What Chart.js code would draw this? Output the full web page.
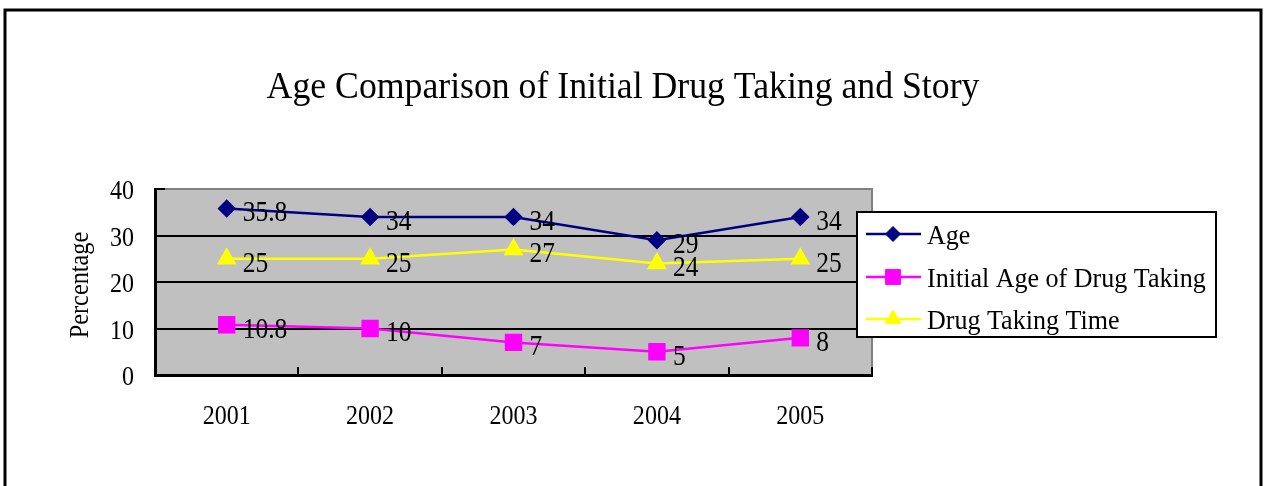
<!doctype html>
<html lang="en">
<head>
<meta charset="utf-8">
<title>Age Comparison of Initial Drug Taking and Story</title>
<script src="https://cdn.jsdelivr.net/npm/chart.js"></script>
<style>
  html, body { margin: 0; padding: 0; background: #fff; }
</style>
</head>
<body>
<canvas id="chart" width="1267" height="486"></canvas>
<script>
// data
const years = ['2001', '2002', '2003', '2004', '2005'];
const ageValues = [35.8, 34, 34, 29, 34];
const initialAgeValues = [10.8, 10, 7, 5, 8];
const takingTimeValues = [25, 25, 27, 24, 25];
const yTicks = [0, 10, 20, 30, 40];
const seriesNames = ['Age', 'Initial Age of Drug Taking', 'Drug Taking Time'];

const chartTitle = 'Age Comparison of Initial Drug Taking and Story';
const yTitle = 'Percentage';
const FONT = "'Liberation Serif', 'DejaVu Serif', serif";

// tall, slightly narrow serif text (squeezed horizontally by sx)
function drawText(ctx, text, x, y, size, sx, align, rot) {
  ctx.save();
  ctx.translate(x, y);
  if (rot) ctx.rotate(rot);
  ctx.scale(sx, 1);
  ctx.font = size + 'px ' + FONT;
  ctx.fillStyle = '#000';
  ctx.textAlign = align;
  ctx.textBaseline = 'middle';
  ctx.fillText(text, 0, 0);
  ctx.restore();
}

// grey plot background, outer frame and the title
const framePlugin = {
  id: 'frame',
  beforeDraw(chart) {
    const ctx = chart.ctx, a = chart.chartArea;
    ctx.save();
    ctx.fillStyle = '#c0c0c0';
    ctx.fillRect(a.left, a.top, a.right - a.left, a.bottom - a.top);
    ctx.strokeStyle = '#808080';
    ctx.lineWidth = 2;
    ctx.beginPath();
    ctx.moveTo(a.left, a.top);
    ctx.lineTo(a.right, a.top);
    ctx.lineTo(a.right, a.bottom);
    ctx.stroke();

    ctx.strokeStyle = '#000';
    ctx.lineWidth = 3;
    ctx.beginPath();
    ctx.moveTo(5, 486);
    ctx.lineTo(5, 10);
    ctx.lineTo(1261, 10);
    ctx.lineTo(1261, 486);
    ctx.stroke();
    ctx.restore();

    drawText(ctx, chartTitle, 623, 88, 38, 0.94, 'center');
  },
  // inward tick marks plus the axis labels
  afterDatasetsDraw(chart) {
    const ctx = chart.ctx, a = chart.chartArea;
    const xs = chart.scales.x, ys = chart.scales.y;
    ctx.save();
    ctx.strokeStyle = '#000';
    ctx.lineWidth = 2;
    ctx.beginPath();
    for (let i = 0; i < years.length; i++) {
      const x = i < years.length - 1
        ? (xs.getPixelForValue(i) + xs.getPixelForValue(i + 1)) / 2
        : a.right;
      ctx.moveTo(Math.round(x), a.bottom);
      ctx.lineTo(Math.round(x), a.bottom - 8);
    }
    const yTop = ys.getPixelForValue(40);
    ctx.moveTo(a.left, yTop);
    ctx.lineTo(a.left + 10, yTop);
    ctx.stroke();
    ctx.restore();

    yTicks.forEach(v => drawText(ctx, String(v), 134, ys.getPixelForValue(v) + 3, 27, 0.89, 'right'));
    years.forEach((y, i) => drawText(ctx, y, xs.getPixelForValue(i), 417, 27, 0.89, 'center'));
    drawText(ctx, yTitle, 81, 285, 27, 0.9, 'center', -Math.PI / 2);
  }
};

// value labels next to every point
const valueLabels = {
  id: 'valueLabels',
  afterDatasetsDraw(chart) {
    const ctx = chart.ctx;
    chart.data.datasets.forEach((ds, di) => {
      chart.getDatasetMeta(di).data.forEach((pt, i) => {
        drawText(ctx, String(ds.data[i]), pt.x + 16, pt.y + 5, 30, 0.85, 'left');
      });
    });
  }
};

// boxed legend overlapping the right edge of the plot
const boxLegend = {
  id: 'boxLegend',
  afterDraw(chart) {
    const ctx = chart.ctx;
    const box = { x: 857, y: 212, w: 359, h: 125 };
    const rows = [234, 277, 319];
    ctx.save();
    ctx.fillStyle = '#fff';
    ctx.fillRect(box.x, box.y, box.w, box.h);
    ctx.strokeStyle = '#000';
    ctx.lineWidth = 2;
    ctx.strokeRect(box.x, box.y, box.w, box.h);
    chart.data.datasets.forEach((ds, i) => {
      const y = rows[i];
      ctx.strokeStyle = ds.borderColor;
      ctx.lineWidth = 2.5;
      ctx.beginPath();
      ctx.moveTo(866, y);
      ctx.lineTo(921, y);
      ctx.stroke();
      ctx.fillStyle = ds.pointBackgroundColor;
      ctx.strokeStyle = ds.pointBorderColor;
      ctx.lineWidth = 1;
      Chart.helpers.drawPoint(ctx, {
        pointStyle: ds.pointStyle,
        radius: ds.pointRadius,
        rotation: 0,
        borderWidth: 1
      }, 893, y);
      drawText(ctx, ds.label, 927, y + 3, 28, 0.93, 'left');
    });
    ctx.restore();
  }
};

new Chart(document.getElementById('chart'), {
  type: 'line',
  data: {
    labels: years,
    datasets: [
      {
        label: seriesNames[0],
        data: ageValues,
        borderColor: '#000080',
        borderWidth: 2.5,
        pointStyle: 'rectRot',
        pointRadius: 7.5,
        pointBackgroundColor: '#000080',
        pointBorderColor: '#000080'
      },
      {
        label: seriesNames[1],
        data: initialAgeValues,
        borderColor: '#ff00ff',
        borderWidth: 2.5,
        pointStyle: 'rect',
        pointRadius: 10.5,
        pointBackgroundColor: '#ff00ff',
        pointBorderColor: '#ff00ff'
      },
      {
        label: seriesNames[2],
        data: takingTimeValues,
        borderColor: '#ffff00',
        borderWidth: 2.5,
        pointStyle: 'triangle',
        pointRadius: 9,
        pointBackgroundColor: '#ffff00',
        pointBorderColor: '#ffff00'
      }
    ]
  },
  options: {
    responsive: false,
    animation: false,
    devicePixelRatio: 1,
    layout: { padding: { top: 189, right: 395, bottom: 0, left: 0 } },
    plugins: {
      legend: { display: false },
      tooltip: { enabled: false }
    },
    scales: {
      x: {
        offset: true,
        afterFit(s) { s.height = 111; },
        grid: { color: 'transparent', drawTicks: false },
        border: { display: true, color: '#000', width: 3 },
        ticks: { display: false }
      },
      y: {
        min: 0,
        max: 40,
        afterFit(s) { s.width = 155; },
        afterBuildTicks(s) { s.ticks = yTicks.map(v => ({ value: v })); },
        grid: {
          drawTicks: false,
          lineWidth: 2,
          color: c => (c.tick && c.tick.value > 0 && c.tick.value < 40) ? '#000' : 'transparent'
        },
        border: { display: true, color: '#000', width: 3 },
        ticks: { display: false }
      }
    }
  },
  plugins: [framePlugin, valueLabels, boxLegend]
});
</script>
</body>
</html>
